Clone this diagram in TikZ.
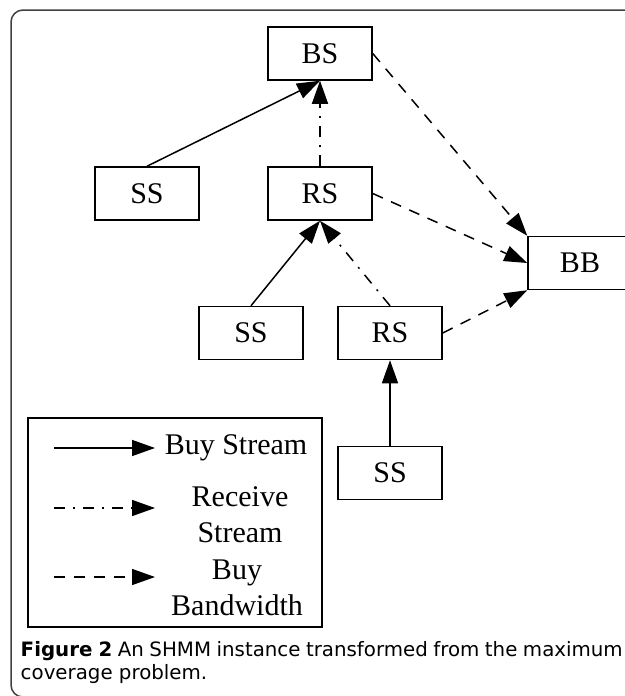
\documentclass[tikz,border=0pt]{standalone}
\usepackage{fontspec}
\setmainfont{Liberation Serif}
\newfontfamily\capfont{DejaVu Sans}
\usetikzlibrary{arrows.meta}

\begin{document}
\begin{tikzpicture}
  [>={Triangle[length=11.5pt,width=8pt]}, x=0.5pt, y=-0.5pt, line width=0.75pt]

% page size
\useasboundingbox (0,0) rectangle (625,696);

% define styles
\tikzstyle{station} = [draw, rectangle, minimum width=52pt, minimum height=26.5pt, inner sep=0pt, font=\fontsize{15pt}{18pt}\selectfont];
\tikzstyle{legendtext} = [align=center, inner sep=0pt, font=\fontsize{15pt}{18pt}\selectfont];
\tikzstyle{buy} = [->];
\tikzstyle{receive} = [->, dash pattern=on 5.5pt off 4pt on 1pt off 4pt];
\tikzstyle{bandwidth} = [->, dash pattern=on 5.5pt off 4.5pt];

% define new commands
\newcommand{\legendRow}[3]{
  \coordinate (#1a) at (54,#2);
  \coordinate (#1b) at (155,#2);
  \draw [#3] (#1a) -- (#1b);
}

% outer frame
\draw [black!75, rounded corners=6pt] (11,10) rectangle (645,697);

% draw nodes
\node[station] (bs) at (320,53.5) {BS};
\node[station] (ss1) at (147,193.5) {SS};
\node[station] (rs1) at (320,193.5) {RS};
\node[station] (bb) at (580,263) {BB};
\node[station] (ss2) at (251,333) {SS};
\node[station] (rs2) at (390,333) {RS};
\node[station] (ss3) at (390,473) {SS};

% buy stream
\draw [buy] (ss1.north) -- (bs.south);
\draw [buy] (ss2.north) -- (rs1.south);
\draw [buy] (ss3.north) -- (rs2.south);

% receive stream
\draw [receive] (rs1.north) -- (bs.south);
\draw [receive] (rs2.north) -- (rs1.south);

% buy bandwidth
\draw [bandwidth] (bs.east) -- (bb.north west);
\draw [bandwidth] (rs1.east) -- (bb.west);
\draw [bandwidth] (rs2.east) -- (bb.south west);

% legend
\node[draw, minimum width=147pt, minimum height=104.5pt, inner sep=0pt] (legend) at (175,522.5) {};
\legendRow{lbuy}{448}{buy}
\legendRow{lrec}{508}{receive}
\legendRow{lband}{577}{bandwidth}
\node[legendtext] (tbuy) at (236,448) {Buy Stream};
\node[legendtext] (trec) at (240,515) {Receive\\Stream};
\node[legendtext] (tband) at (237,588) {Buy\\Bandwidth};

% caption
\node[anchor=base west, align=left, inner sep=0pt,
  font=\capfont\fontsize{9.9pt}{11.5pt}\selectfont] (caption) at (20,679)
  {\makebox[301pt][s]{\textbf{Figure 2} An SHMM instance transformed from the maximum}\\coverage problem.};

\end{tikzpicture}
\end{document}
